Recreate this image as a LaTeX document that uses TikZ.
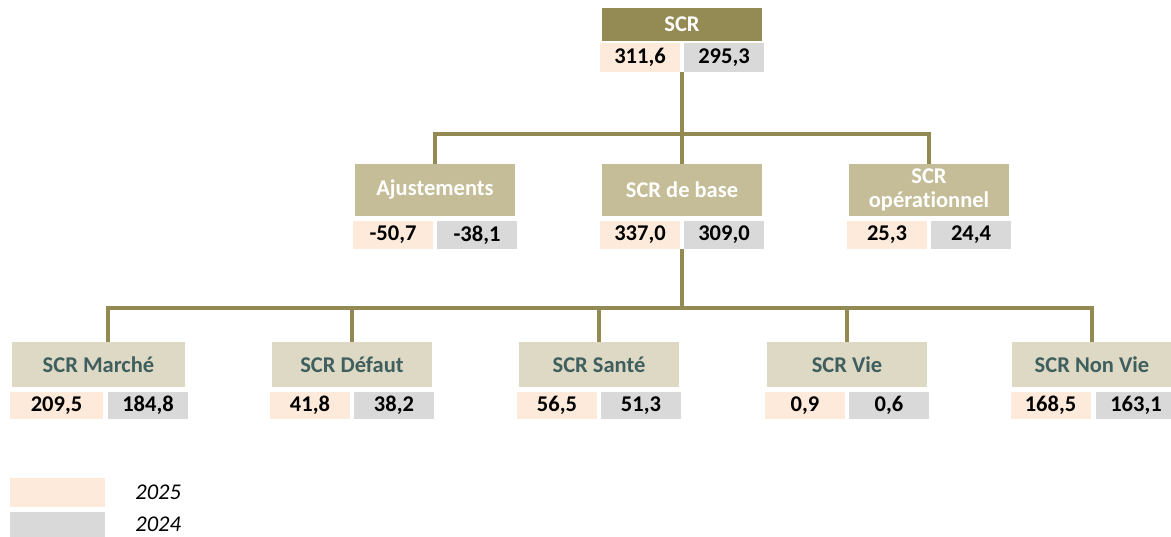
\documentclass[tikz,border=0pt]{standalone}
\usepackage{fontspec}
\setmainfont{Carlito}[Ligatures=NoCommon]
\usetikzlibrary{positioning}
\definecolor{olivefonce}{HTML}{948A54}
\definecolor{olivemoyen}{HTML}{C4BD97}
\definecolor{oliveclair}{HTML}{DDD9C4}
\definecolor{peche}{HTML}{FDEADA}
\definecolor{grisclair}{HTML}{D9D9D9}
\definecolor{ardoise}{HTML}{3F5F5F}
\definecolor{trait}{HTML}{938953}
\newcommand{\taille}{\fontsize{22.5}{24}\selectfont}
\tikzstyle{boite} = [rectangle, minimum width=160pt, inner sep=0pt, align=center, font=\taille\bfseries]
\tikzstyle{haut} = [boite, fill=olivefonce, text=white, minimum height=33pt]
\tikzstyle{milieu} = [boite, fill=olivemoyen, text=white, minimum height=52pt]
\tikzstyle{bas} = [boite, fill=oliveclair, text=ardoise, minimum height=45pt]
\tikzstyle{val} = [rectangle, minimum width=80pt, minimum height=28pt, inner sep=0pt, font=\taille\bfseries]
\tikzstyle{an25} = [val, fill=peche]
\tikzstyle{an24} = [val, fill=grisclair]
\tikzstyle{legende} = [inner sep=0pt, font=\taille\itshape]
\tikzstyle{lien} = [line width=3.5pt, draw=trait]

\begin{document}
\begin{tikzpicture}[x=1pt, y=-1pt]
    \useasboundingbox (0,0) rectangle (1171,536);

    % niveau 1
    \node (scr) [haut] at (682,24.5) {SCR};
    \node (scr25) [an25, minimum height=29pt] at (640,57.5) {311,6};
    \node (scr24) [an24, minimum height=29pt] at (724,57.5) {295,3};

    % niveau 2
    \node (ajust) [milieu] at (435,190) {Ajustements};
    \node (ajust25) [an25] at (393,235) {-50,7};
    \node (ajust24) [an24] at (477,235) {-38,1};
    \node (base) [milieu] at (682,190) {SCR de base};
    \node (base25) [an25] at (640,235) {337,0};
    \node (base24) [an24] at (724,235) {309,0};
    \node (oper) [milieu] at (929,190) {SCR\\opérationnel};
    \node (oper25) [an25] at (887,235) {25,3};
    \node (oper24) [an24] at (971,235) {24,4};

    % niveau 3
    \node (marche) [bas, minimum width=173pt] at (98.5,364.5) {SCR Marché};
    \node (marche25) [an25, minimum width=93pt, minimum height=27pt] at (56.5,405.5) {209,5};
    \node (marche24) [an24, minimum height=27pt] at (148,405.5) {184,8};
    \node (defaut) [bas] at (352,364.5) {SCR Défaut};
    \node (defaut25) [an25, minimum height=27pt] at (310,405.5) {41,8};
    \node (defaut24) [an24, minimum height=27pt] at (394,405.5) {38,2};
    \node (sante) [bas] at (599,364.5) {SCR Santé};
    \node (sante25) [an25, minimum height=27pt] at (557,405.5) {56,5};
    \node (sante24) [an24, minimum height=27pt] at (641,405.5) {51,3};
    \node (vie) [bas] at (847,364.5) {SCR Vie};
    \node (vie25) [an25, minimum height=27pt] at (805,405.5) {0,9};
    \node (vie24) [an24, minimum height=27pt] at (889,405.5) {0,6};
    \node (nonvie) [bas] at (1092,364.5) {SCR Non Vie};
    \node (nonvie25) [an25, minimum height=27pt] at (1050.5,405.5) {168,5};
    \node (nonvie24) [an24, minimum height=27pt] at (1136,405.5) {163,1};

    % liens
    \coordinate (barre1) at (0,134);
    \coordinate (barre2) at (0,308);
    \draw [lien] (ajust.north) -- (ajust.north |- barre1) -- (oper.north |- barre1) -- (oper.north);
    \draw [lien] (scr.south |- scr25.south) -- (base.north);
    \draw [lien] (marche24.west |- marche.north) -- (marche24.west |- barre2) -- (nonvie.north |- barre2) -- (nonvie.north);
    \draw [lien] (base.south |- base25.south) -- (base.south |- barre2);
    \foreach \n in {defaut, sante, vie}
        \draw [lien] (\n.north) -- (\n.north |- barre2);

    % legende
    \node (leg25) [an25, minimum width=95pt, minimum height=29pt] at (57.5,492.5) {};
    \node (leg24) [an24, minimum width=95pt, minimum height=29pt] at (57.5,526) {};
    \node (t25) [legende, right=30pt of leg25] {2025};
    \node (t24) [legende, right=30pt of leg24, yshift=2pt] {2024};
\end{tikzpicture}
\end{document}
